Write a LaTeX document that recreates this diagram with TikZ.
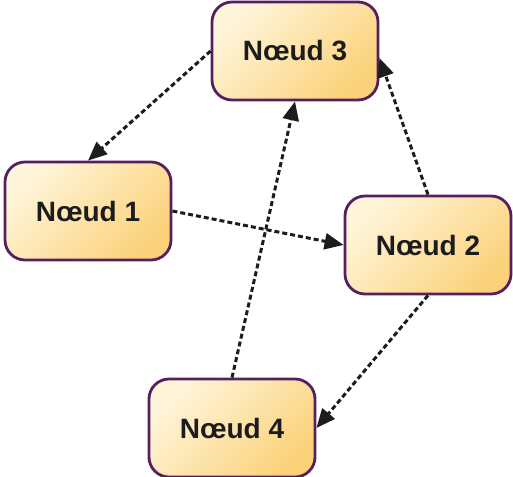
\documentclass[tikz,border=0pt]{standalone}
\usepackage{fontspec}
\setmainfont{Liberation Sans}
\usetikzlibrary{arrows.meta}
\definecolor{nodeedge}{HTML}{55205F}
\definecolor{nodelight}{HTML}{FFF5DA}
\definecolor{nodedark}{HTML}{FBD27A}
\definecolor{ink}{HTML}{1C1C1C}

\begin{document}
\begin{tikzpicture}[x=1pt,y=-1pt,
    noeud/.style={draw=nodeedge,line width=2.8pt,rounded corners=20pt,
      top color=nodelight,bottom color=nodedark,shading angle=45,
      minimum width=166pt,minimum height=98pt,text=ink,
      font=\bfseries\fontsize{28}{32}\selectfont},
    lien/.style={draw=ink,line width=3pt,dash pattern=on 5pt off 3pt,
      -{Triangle[length=19pt,width=16pt]}}]
  \useasboundingbox (0,0) rectangle (513,476);
  % the four nodes
  \node[noeud] (n3) at (295,51)  {Nœud 3};
  \node[noeud] (n1) at (88,211)  {Nœud 1};
  \node[noeud] (n2) at (428,245) {Nœud 2};
  \node[noeud] (n4) at (232,428) {Nœud 4};
  % links
  \draw[lien] (n3.west) -- (n1.north);
  \draw[lien] (n1.east) -- (n2.west);
  \draw[lien] (n2.north) -- ([yshift=-7pt]n3.east);
  \draw[lien] (n2.south) -- (n4.east);
  \draw[lien] (n4.north) -- (n3.south);
\end{tikzpicture}
\end{document}
